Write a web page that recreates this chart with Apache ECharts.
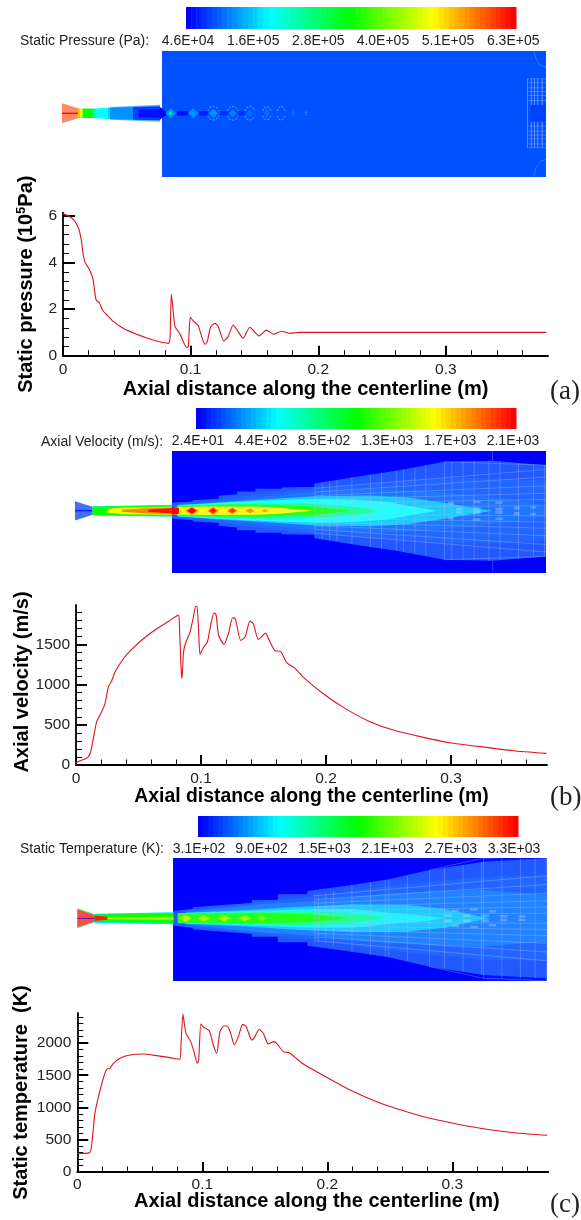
<!DOCTYPE html>
<html>
<head>
<meta charset="utf-8">
<style>html,body{margin:0;padding:0;background:#fff}#c{width:581px;height:1220px}</style>
<script src="https://cdn.jsdelivr.net/npm/echarts@6/dist/echarts.min.js"></script>
</head>
<body>
<div id="c"></div>
<script>
// ---------- centerline curves [axial distance (m), value] ----------
const pressureLine = [[0,6.09],[.0044,6.0],[.0089,5.8],[.0122,5.47],[.0143,4.97],[.0161,4.25],[.0174,4.0],[.0208,3.68],[.0234,3.32],[.0247,2.82],[.026,2.39],[.0284,2.28],[.0313,1.93],[.0344,1.75],[.0396,1.46],[.0474,1.17],[.0578,.92],[.0708,.67],[.0826,.53],[.0839,.82],[.0849,2.65],[.0865,1.82],[.0878,1.25],[.0917,.93],[.0948,.53],[.0969,.36],[.0982,.39],[.0997,1.65],[.1021,1.49],[.106,1.29],[.1086,.82],[.1112,.49],[.113,.6],[.1156,1.22],[.119,1.39],[.1216,1.25],[.126,.63],[.1294,.82],[.1333,1.32],[.1365,1.1],[.1411,.75],[.1464,1.22],[.1536,.85],[.1594,1.1],[.1651,.92],[.1711,1.05],[.1776,.96],[.1854,1.0],[.25,1.0],[.3787,1.0]];
const velocityLine = [[0,29],[.0032,54],[.0072,74],[.0099,103],[.0117,165],[.0139,331],[.0165,537],[.0205,661],[.0232,764],[.0259,971],[.0285,1045],[.0312,1157],[.0379,1322],[.0459,1459],[.0539,1570],[.0645,1694],[.0752,1798],[.0819,1864],[.0827,1756],[.084,1219],[.0848,1074],[.0859,1384],[.0875,1508],[.0912,1653],[.0939,1839],[.0957,1975],[.0968,1975],[.0981,1674],[.0992,1376],[.1019,1459],[.1051,1529],[.1077,1736],[.1104,1893],[.112,1872],[.1141,1612],[.1184,1500],[.1219,1632],[.1253,1831],[.1275,1818],[.1317,1550],[.1352,1591],[.1392,1789],[.1419,1756],[.1459,1562],[.1517,1640],[.1552,1529],[.1592,1421],[.1637,1413],[.1685,1272],[.1752,1202],[.1819,1090],[.1992,870],[.2165,692],[.2352,539],[.2539,435],[.2779,344],[.2992,277],[.3232,228],[.3499,178],[.3763,145]];
const temperatureLine = [[0,289],[.0069,289],[.0101,305],[.0115,419],[.0141,910],[.0168,1158],[.0208,1452],[.0235,1592],[.0261,1607],[.0283,1674],[.0341,1762],[.0421,1814],[.0528,1829],[.0635,1804],[.0741,1773],[.0821,1747],[.0829,1943],[.0845,2450],[.0856,2305],[.0869,2150],[.0907,2021],[.0933,1866],[.096,1685],[.0971,1736],[.0989,2295],[.1013,2243],[.1056,2191],[.1088,1969],[.1115,1840],[.1141,2176],[.1173,2264],[.12,2264],[.1227,2150],[.1256,1969],[.1288,2098],[.1323,2289],[.1349,2264],[.1395,2047],[.1413,2072],[.1456,2212],[.1488,2150],[.1528,1984],[.1573,2021],[.1595,1995],[.1648,1866],[.1696,1850],[.1741,1778],[.1808,1674],[.1995,1468],[.2182,1271],[.2395,1090],[.2608,950],[.2822,832],[.3035,744],[.3275,662],[.3515,605],[.376,569]];

// ---------- line chart axis ticks ----------
const xMajor = [0,.1,.2,.3];
const xMinor = [.02,.04,.06,.08,.12,.14,.16,.18,.22,.24,.26,.28,.32,.34,.36];
const pressureMajor = [0,2,4,6];
const pressureMinor = [.4,.8,1.2,1.6,2.4,2.8,3.2,3.6,4.4,4.8,5.2,5.6];
const velocityMajor = [0,500,1000,1500];
const velocityMinor = [100,200,300,400,600,700,800,900,1100,1200,1300,1400,1600,1700,1800,1900];
const temperatureMajor = [0,500,1000,1500,2000];
const temperatureMinor = [100,200,300,400,600,700,800,900,1100,1200,1300,1400,1600,1700,1800,1900,2100,2200,2300,2400];

// ---------- colour bar tick values ----------
const pressureBarTicks = [46000,163000,280000,396000,513000,630000];
const velocityBarTicks = [24,439,854,1269,1684,2099];
const temperatureBarTicks = [310,904,1500,2100,2700,3300];
const barLevels = Array.from({length:64},(_,k)=>k);

// ---------- contour fields: axial position (m), half height (mm), field value ----------
// pressure
const pressureChamber = [[.0783,.379,50,50,100000]];
const pressureNozzlePale = [[0,.0125,7.8,3.9,590000],[.0376,.0767,5,6.6,125000]];
const pressureNozzle = [[.0125,.0141,3.9,3.7,520000],[.0141,.0157,3.7,3.7,470000],[.0157,.0164,3.7,3.7,420000],[.0164,.0235,3.7,3.7,340000],[.0235,.0258,3.7,3.7,270000],[.0258,.036,3.7,4.4,200000],[.036,.0376,4.4,4.4,170000],[.0376,.0556,4.4,5,130000],[.0556,.0767,5,5.5,90000],[0,.0125,.5,.5,630000],[.06,.0767,3,3.4,60000],[.0767,.083,5,0,50000],[.0898,.0987,1.8,1.8,60000],[.1073,.1143,1.8,1.8,70000],[.1237,.13,1.8,1.8,75000],[.1378,.1433,1.8,1.8,75000]];
const pressureDiamonds = [[.0851,.0042,4,135000],[.0851,.0016,1.6,290000],[.1028,.0037,4,130000],[.1185,.0035,3.5,130000],[.1337,.003,3,125000],[.1472,.003,2.5,118000],[.1603,.002,4.5,112000],[.1811,.0015,4,115000]];
const pressureRings = [[.1185,.0045,5.4],[.1337,.0045,5.4],[.1472,.004,5.4],[.1603,.0032,5.4],[.1716,.0032,5.4],[.1916,.0012,1.2]];
const pressureMesh = [[.3645,-27,.3645,27],[.3675,-27,.3675,27],[.37,-27,.37,27],[.3725,-27,.3725,27],[.376,-27,.376,27],[.3645,10,.379,10],[.3645,14,.379,14],[.3645,17,.379,17],[.3645,20,.379,20],[.3645,24,.379,24],[.3645,27,.379,27],[.3695,49,.371,43],[.371,43,.374,38],[.374,38,.379,36]];
const pressurePatches = [[.3668,.379,0,6.5,90000]];

// velocity
const velocityChamber = [[.0776,.3768,50,50,24]];
const velocityBandValues = [170,195,250,420,543,792,1062,1581];
const velocityBands = [
  [[.0775,6.4],[.0941,7.5],[.0941,8.5],[.1148,9.6],[.1148,12],[.1296,13.3],[.1296,15.5],[.1444,15.5],[.1444,17.6],[.1652,17.6],[.1652,18.7],[.1919,19.2],[.1919,21.9],[.2215,26.7],[.257,32],[.2956,39.2],[.3341,40],[.3768,36.5]],
  [[.0822,5.5],[.1178,9.5],[.1474,13.5],[.1919,18],[.2363,21.5],[.2659,24],[.2956,26],[.3341,26],[.3768,24]],
  [[.0822,4.8],[.0941,5.3],[.1178,7.5],[.1474,10.7],[.1919,15.5],[.2363,17.3],[.2659,16.5],[.2956,14.7],[.3252,12],[.3548,8],[.3768,4]],
  [[.0822,4.6],[.1178,6.9],[.1474,8.8],[.1919,11.7],[.2363,12.3],[.2659,10.7],[.2956,6.4],[.3252,1.3],[.3341,0]],
  [[.0822,4.3],[.1178,6.5],[.1474,8],[.1919,9.5],[.2215,9],[.2511,7],[.2659,4],[.2896,0]],
  [[.0822,4.1],[.1178,5.5],[.1474,6],[.1919,5.5],[.2215,3.5],[.2363,1.5],[.2422,0]],
  [[.0822,3.8],[.1178,4.8],[.1474,5],[.1919,3.5],[.2067,1.5],[.2215,0]],
  [[.0775,3],[.1059,3.4],[.1474,3.2],[.1652,2.2],[.183,.6],[.19,0]]
];
const velocityVeil = [velocityBands[0]];
const velocityNozzlePale = [[0,.0141,7.7,3.2,170]];
const velocityNozzle = [[0,.0141,.4,.4,24],[.0141,.0775,3.7,4.8,700],[.0141,.0775,3.3,4.2,1062],[.0259,.0378,1.5,2.8,1581],[.0378,.0775,2.8,3.2,1581],[.0378,.0585,.8,2.2,1830],[.0585,.0775,2.2,2.6,1830],[.0585,.0775,.8,2.2,2050],[.0775,.0831,3.2,2.4,2090]];
const velocityDiamonds = [[.0935,.0056,3.4,1800],[.0935,.0036,2.4,2090],[.1104,.0047,3.2,1800],[.1104,.003,2.1,2060],[.1258,.0043,2.8,1800],[.1258,.0028,1.8,2000],[.14,.0038,2,1800],[.1519,.0032,1.2,1750]];
const velocityMeshX = [.1919,.1978,.2037,.2096,.2215,.2363,.2452,.257,.2629,.2719,.2807,.2956,.3015,.3104,.3193,.3311,.34,.3548,.3667,.3756];
const velocityMeshH = [21.9,22.6,23.4,24.2,26.7,29,30.5,32,33,34.5,36,39.2,39.4,39.5,39.7,40,39.5,38,37,36.5];
const velocityMeshLines = [[.1919,3,.3768,4],[.1919,6,.3768,9],[.1919,9,.3768,14],[.1919,12,.3768,20],[.1919,15,.3768,27],[.1919,18,.3768,33],[.2956,39.2,.3768,36.5],[.3341,40,.3341,48]];
const velocityPatches = [[.3052,.3096,.2,2.4],[.3185,.3244,.2,3],[.3363,.3422,.2,2.4],[.3511,.3555,1,3.6],[.3644,.3689,1.6,3.6],[.2985,.3031,5,7],[.3185,.3244,6,8],[.3363,.3422,5.5,7.5]];

// temperature
const temperatureChamber = [[.0766,.3754,50.2,50.2,310],[.3249,.3754,50.2,50.2,400]];
const temperatureBandValues = [519,590,640,900,1057,1416,1805];
const temperatureBands = [
  [[.0769,5.9],[.0923,7.5],[.0923,8.8],[.116,10.7],[.1397,12.3],[.1397,14.7],[.1604,14.7],[.1604,19.2],[.1841,19.2],[.1841,21.9],[.2197,26.7],[.2493,31.2],[.2819,38.7],[.3249,45.3],[.3754,48]],
  [[.0864,6.5],[.116,9.4],[.1456,13],[.19,17],[.2345,24],[.279,29],[.3234,33],[.3754,34]],
  [[.0864,4.8],[.116,8],[.1456,11.2],[.19,13.9],[.2345,18.7],[.279,21.3],[.3234,22.7],[.3754,18.7]],
  [[.0864,4.4],[.1308,6.4],[.1752,9.1],[.2197,11.2],[.2641,10.7],[.2938,7.5],[.3234,1.3],[.3293,0]],
  [[.0864,4.2],[.1456,6],[.19,7.5],[.2197,7.5],[.2493,4.5],[.279,2.1],[.2938,0]],
  [[.0804,4],[.1456,5],[.19,5.5],[.2197,4],[.2345,2],[.2464,0]],
  [[.0804,3.4],[.116,4],[.1604,4],[.19,3],[.2049,1.2],[.2163,0]]
];
const temperatureVeil = [temperatureBands[0]];
const temperatureNozzlePale = [[0,.0138,7.2,2.7,3250]];
const temperatureNozzle = [[.0138,.0769,3.7,4.8,1000],[.0138,.0769,3,3.6,1805],[.0241,.0769,.8,1.2,2300],[.0138,.0241,2.2,1.2,3200],[0,.0138,.3,.3,310]];
const temperatureNozzleRim = [[0,.0138,8,3.2,1500]];
const temperatureDiamonds = [[.0864,.005,2.8,2350],[.101,.005,2.6,2300],[.1175,.005,2.6,2300],[.134,.005,2.4,2250],[.1472,.004,2.2,2150]];
const temperatureMeshX = [.19,.1929,.1988,.2049,.2197,.2345,.2464,.2493,.2641,.2819,.2938,.3086,.3234,.3249,.3397,.3545,.3663,.3752];
const temperatureMeshH = [19.2,19.5,20,21.9,26.7,29,30.5,31.2,34,38.7,40,42.5,45,48,48,48,48,48];
const temperatureMeshLines = [[.19,3,.3754,4],[.19,6,.3754,9],[.19,9,.3754,14],[.19,12,.3754,20],[.19,15,.3754,27],[.19,18,.3754,34],[.2819,38.7,.3249,48],[.3249,48,.3754,50]];
const temperaturePatches = [[.2938,.2997,1,3],[.3086,.3145,1,3],[.3234,.3293,1,3],[.3382,.3441,.5,2.5],[.353,.3589,.5,2.2],[.2997,.3056,5,7],[.3145,.3204,6,8],[.3293,.3352,4.5,6.5]];

// ---------- shared settings ----------
const SANS = '"Liberation Sans", Arial, sans-serif';
const SERIF = '"Liberation Serif", serif';
const jetStops = [[0,[0,0,255]],[.25,[0,255,255]],[.5,[0,255,0]],[.75,[255,255,0]],[1,[255,0,0]]];
function jet(t){
  t = Math.max(0,Math.min(.9999,t));
  t = Math.min(1,Math.floor(t*64)/63);
  for(let i=0;i<jetStops.length-1;i++){
    const a=jetStops[i],b=jetStops[i+1];
    if(t<=b[0]){
      const f=(t-a[0])/(b[0]-a[0]);
      return 'rgb('+a[1].map((c,j)=>Math.round(c+(b[1][j]-c)*f)).join(',')+')';
    }
  }
  return 'rgb(255,0,0)';
}
const grid=[],xAxis=[],yAxis=[],series=[],titles=[];
const addGrid=(l,t,w,h)=>grid.push({left:l,top:t,width:w,height:h,outerBoundsMode:'none'});

function addPolys(xi,yi,rows,makePoints,styleOf,z){
  series.push({type:'custom',xAxisIndex:xi,yAxisIndex:yi,silent:true,animation:false,clip:true,z:z,
    data:rows,
    renderItem:(p,api)=>{
      const row=rows[p.dataIndex];
      const polys=makePoints(row,p.dataIndex);
      return {type:'group',children:polys.map(pts=>({
        type:styleOf.line?'polyline':'polygon',
        shape:{points:pts.map(q=>api.coord(q))},
        style:styleOf.fn(row,p.dataIndex)
      }))};
    }
  });
}
function fieldPanel(f){
  const gi=grid.length;
  addGrid(f.left,f.top,f.width,f.height);
  xAxis.push({gridIndex:gi,type:'value',min:0,max:f.xMax,show:false});
  yAxis.push({gridIndex:gi,type:'value',min:f.yMin,max:f.yMax,show:false});
  const colorOf=v=>jet((v-f.low)/(f.high-f.low));
  const trap=r=>[[[r[0],r[2]],[r[1],r[3]],[r[1],-r[3]],[r[0],-r[2]]]];
  const rect=r=>[[[r[0],r[2]],[r[1],r[2]],[r[1],r[3]],[r[0],r[3]]],[[r[0],-r[2]],[r[1],-r[2]],[r[1],-r[3]],[r[0],-r[3]]]];
  const outline=e=>[e.map(q=>[q[0],q[1]]).concat(e.slice().reverse().map(q=>[q[0],-q[1]]))];
  const fill=(op)=>({fn:r=>({fill:colorOf(r[r.length-1]),opacity:op==null?1:op})});
  const meshStyle={line:true,fn:()=>({stroke:'rgba(175,190,255,.42)',lineWidth:.8,fill:null})};
  addPolys(gi,gi,f.chamber,trap,fill(),2);
  if(f.bands) addPolys(gi,gi,f.bandValues.map(v=>[v]),(r,i)=>outline(f.bands[i]),{fn:r=>({fill:colorOf(r[0])})},3);
  if(f.veil) addPolys(gi,gi,f.veil,e=>outline(e),{fn:()=>({fill:'rgba(255,255,255,.13)'})},4);
  if(f.meshX) addPolys(gi,gi,f.meshX.map((x,i)=>[x,-f.meshH[i],x,f.meshH[i]]),r=>[[[r[0],r[1]],[r[2],r[3]]]],meshStyle,4);
  if(f.lines) addPolys(gi,gi,f.lines,r=>[[[r[0],r[1]],[r[2],r[3]]],[[r[0],-r[1]],[r[2],-r[3]]]],meshStyle,4);
  if(f.patches) addPolys(gi,gi,f.patches,rect,fill(),5);
  if(f.palePatches) addPolys(gi,gi,f.palePatches,rect,{fn:()=>({fill:'rgba(255,255,255,.25)'})},5);
  if(f.rim) addPolys(gi,gi,f.rim,trap,fill(),6);
  if(f.pale){
    addPolys(gi,gi,f.pale,trap,{fn:()=>({fill:'#fff'})},6);
    addPolys(gi,gi,f.pale,trap,fill(f.paleOpacity),6);
  }
  if(f.nozzle) addPolys(gi,gi,f.nozzle,trap,fill(),7);
  if(f.diamonds) addPolys(gi,gi,f.diamonds,r=>[[[r[0]-r[1],0],[r[0],r[2]],[r[0]+r[1],0],[r[0],-r[2]]]],fill(),8);
  if(f.rings) addPolys(gi,gi,f.rings,r=>{
    const k=.55;
    return [[[r[0]-r[1],r[2]*.35],[r[0]-r[1]*k,r[2]*.85],[r[0],r[2]],[r[0]+r[1]*k,r[2]*.85],[r[0]+r[1],r[2]*.35]],
            [[r[0]-r[1],-r[2]*.35],[r[0]-r[1]*k,-r[2]*.85],[r[0],-r[2]],[r[0]+r[1]*k,-r[2]*.85],[r[0]+r[1],-r[2]*.35]]];
  },{line:true,fn:()=>({stroke:'rgba(150,190,255,.9)',lineWidth:.8,lineDash:[2,1.5],fill:null})},9);
}
function fmtE(v){
  const s=v.toExponential(1).toUpperCase().split('E');
  const exp=s[1].replace(/[+-]/,'');
  return s[0]+'E+'+(exp.length<2?'0'+exp:exp);
}
function colorBar(b){
  const gi=grid.length;
  addGrid(b.left,b.top,b.width,b.height);
  xAxis.push({gridIndex:gi,type:'value',min:b.min,max:b.max,
    axisLine:{show:false},axisTick:{show:false},splitLine:{show:false},
    axisLabel:{customValues:b.ticks,formatter:fmtE,margin:b.margin,color:'#222',fontFamily:SANS,fontSize:b.font,hideOverlap:false}});
  yAxis.push({gridIndex:gi,type:'value',min:0,max:1,show:false});
  const w=(b.max-b.min)/64;
  series.push({type:'custom',xAxisIndex:gi,yAxisIndex:gi,silent:true,animation:false,data:barLevels.map(k=>[k]),
    renderItem:(p,api)=>{
      const k=api.value(0);
      const a=api.coord([b.min+k*w,1]),c=api.coord([b.min+(k+1)*w,0]);
      return {type:'rect',shape:{x:a[0],y:a[1],width:c[0]-a[0]+.5,height:c[1]-a[1]},style:{fill:jet((k+.5)/64)}};
    }});
  titles.push({text:b.title,left:b.titleLeft,top:b.titleTop,textStyle:{fontFamily:SANS,fontSize:b.font,fontWeight:'normal',color:'#222'},padding:0});
}
function lineChart(c){
  const gi=grid.length;
  addGrid(c.left,c.top,c.width,c.height);
  const axisLine={show:true,onZero:false,lineStyle:{color:'#000',width:1.8}};
  const lab={color:'#222',fontFamily:SANS,fontSize:15.5,hideOverlap:false};
  xAxis.push({gridIndex:gi,type:'value',min:0,max:c.xMax,position:'bottom',axisLine:axisLine,splitLine:{show:false},
    axisTick:{show:true,inside:true,length:10,lineStyle:{color:'#000',width:2},customValues:xMajor},
    axisLabel:Object.assign({customValues:xMajor,margin:c.xLabelMargin,formatter:v=>String(v)},lab),
    name:c.xName,nameLocation:'middle',nameGap:c.xNameGap,nameMoveOverlap:false,
    nameTextStyle:{fontFamily:SANS,fontWeight:'bold',fontSize:c.xNameSize,color:'#000',padding:c.xNamePad||0}});
  yAxis.push({gridIndex:gi,type:'value',min:0,max:c.yMax,position:'left',axisLine:axisLine,splitLine:{show:false},
    axisTick:{show:true,inside:true,length:c.yTick,lineStyle:{color:'#000',width:2},customValues:c.yMajor},
    axisLabel:Object.assign({customValues:c.yMajor,margin:6,formatter:v=>String(v)},lab),
    name:c.yName,nameLocation:'middle',nameGap:c.yNameGap,nameRotate:90,nameMoveOverlap:false,
    nameTextStyle:Object.assign({fontFamily:SANS,fontWeight:'bold',fontSize:c.yNameSize,color:'#000',padding:c.yNamePad||0},c.yNameRich?{rich:c.yNameRich}:{})});
  addGrid(c.left,c.top,c.width,c.height);
  xAxis.push({gridIndex:gi+1,type:'value',min:0,max:c.xMax,position:'bottom',axisLine:{show:false},splitLine:{show:false},axisLabel:{show:false},
    axisTick:{show:true,inside:true,length:5.5,lineStyle:{color:'#000',width:1},customValues:xMinor}});
  yAxis.push({gridIndex:gi+1,type:'value',min:0,max:c.yMax,position:'left',axisLine:{show:false},splitLine:{show:false},axisLabel:{show:false},
    axisTick:{show:true,inside:true,length:6,lineStyle:{color:'#000',width:1},customValues:c.yMinor}});
  series.push({type:'line',xAxisIndex:gi,yAxisIndex:gi,data:c.data,showSymbol:false,smooth:.2,silent:true,animation:false,clip:false,z:10,
    lineStyle:{color:'#dc1420',width:1.1}});
}

// ---------- panel (a) ----------
colorBar({left:186,top:7,width:330,height:22,min:42400,max:635000,ticks:pressureBarTicks,font:14,margin:5,title:'Static Pressure (Pa):',titleLeft:20,titleTop:34});
fieldPanel({left:62,top:51,width:484,height:126,xMax:.379,yMin:-49.9,yMax:48.8,low:46000,high:630000,
  chamber:pressureChamber,pale:pressureNozzlePale,paleOpacity:.62,nozzle:pressureNozzle,diamonds:pressureDiamonds,rings:pressureRings,lines:pressureMesh,patches:pressurePatches});
lineChart({left:63,top:212.7,width:485,height:143,xMax:.38,yMax:6.14,data:pressureLine,yMajor:pressureMajor,yMinor:pressureMinor,yTick:12,
  xName:'Axial distance along the centerline (m)',xNameGap:24,xNameSize:20,xLabelMargin:6,
  yName:'{b|Static pressure (10}{s|5}{b|Pa)}',yNameGap:26,yNameSize:20,
  yNameRich:{b:{fontFamily:SANS,fontWeight:'bold',fontSize:20,color:'#000'},s:{fontFamily:SANS,fontWeight:'bold',fontSize:13,color:'#000',padding:[0,0,9,0]}}});

// ---------- panel (b) ----------
colorBar({left:196,top:408,width:320,height:21,min:11,max:2119,ticks:velocityBarTicks,font:14,margin:5,title:'Axial Velocity (m/s):',titleLeft:41,titleTop:435});
fieldPanel({left:75,top:451,width:471,height:122,xMax:.3768,yMin:-49.8,yMax:47.8,low:24,high:2100,
  chamber:velocityChamber,bands:velocityBands,bandValues:velocityBandValues,veil:velocityVeil,meshX:velocityMeshX,meshH:velocityMeshH,lines:velocityMeshLines,palePatches:velocityPatches,
  pale:velocityNozzlePale,paleOpacity:.75,nozzle:velocityNozzle,diamonds:velocityDiamonds});
lineChart({left:76,top:605,width:471,height:160,xMax:.3768,yMax:1990,data:velocityLine,yMajor:velocityMajor,yMinor:velocityMinor,yTick:11,
  xName:'Axial distance along the centerline (m)',xNameGap:22,xNameSize:19.4,xLabelMargin:6,
  yName:'Axial velocity (m/s)',yNameGap:44,yNameSize:20,yNamePad:[0,0,0,6]});

// ---------- panel (c) ----------
colorBar({left:198,top:816,width:320,height:21,min:300,max:3338,ticks:temperatureBarTicks,font:14,margin:5,title:'Static Temperature (K):',titleLeft:20,titleTop:842});
fieldPanel({left:77.3,top:858,width:469.2,height:123,xMax:.3754,yMin:-50.2,yMax:48.2,low:310,high:3300,
  chamber:temperatureChamber,bands:temperatureBands,bandValues:temperatureBandValues,veil:temperatureVeil,meshX:temperatureMeshX,meshH:temperatureMeshH,lines:temperatureMeshLines,palePatches:temperaturePatches,
  rim:temperatureNozzleRim,pale:temperatureNozzlePale,paleOpacity:.75,nozzle:temperatureNozzle,diamonds:temperatureDiamonds});
lineChart({left:77.3,top:1013,width:471,height:159,xMax:.3768,yMax:2465,data:temperatureLine,yMajor:temperatureMajor,yMinor:temperatureMinor,yTick:11,
  xName:'Axial distance along the centerline (m)',xNameGap:19,xNameSize:20,xLabelMargin:5,xNamePad:[0,0,0,8],
  yName:'Static temperature  (K)',yNameGap:46,yNameSize:20});

// ---------- sub-figure labels ----------
[['(a)',550,378],['(b)',550,784],['(c)',550,1191]].forEach(l=>{
  titles.push({text:l[0],left:l[1],top:l[2],padding:0,textStyle:{fontFamily:SERIF,fontSize:27,fontWeight:'normal',color:'#222'}});
});

const chart=echarts.init(document.getElementById('c'),null,{renderer:'canvas'});
chart.setOption({animation:false,backgroundColor:'#fff',title:titles,grid:grid,xAxis:xAxis,yAxis:yAxis,series:series});
</script>
</body>
</html>
